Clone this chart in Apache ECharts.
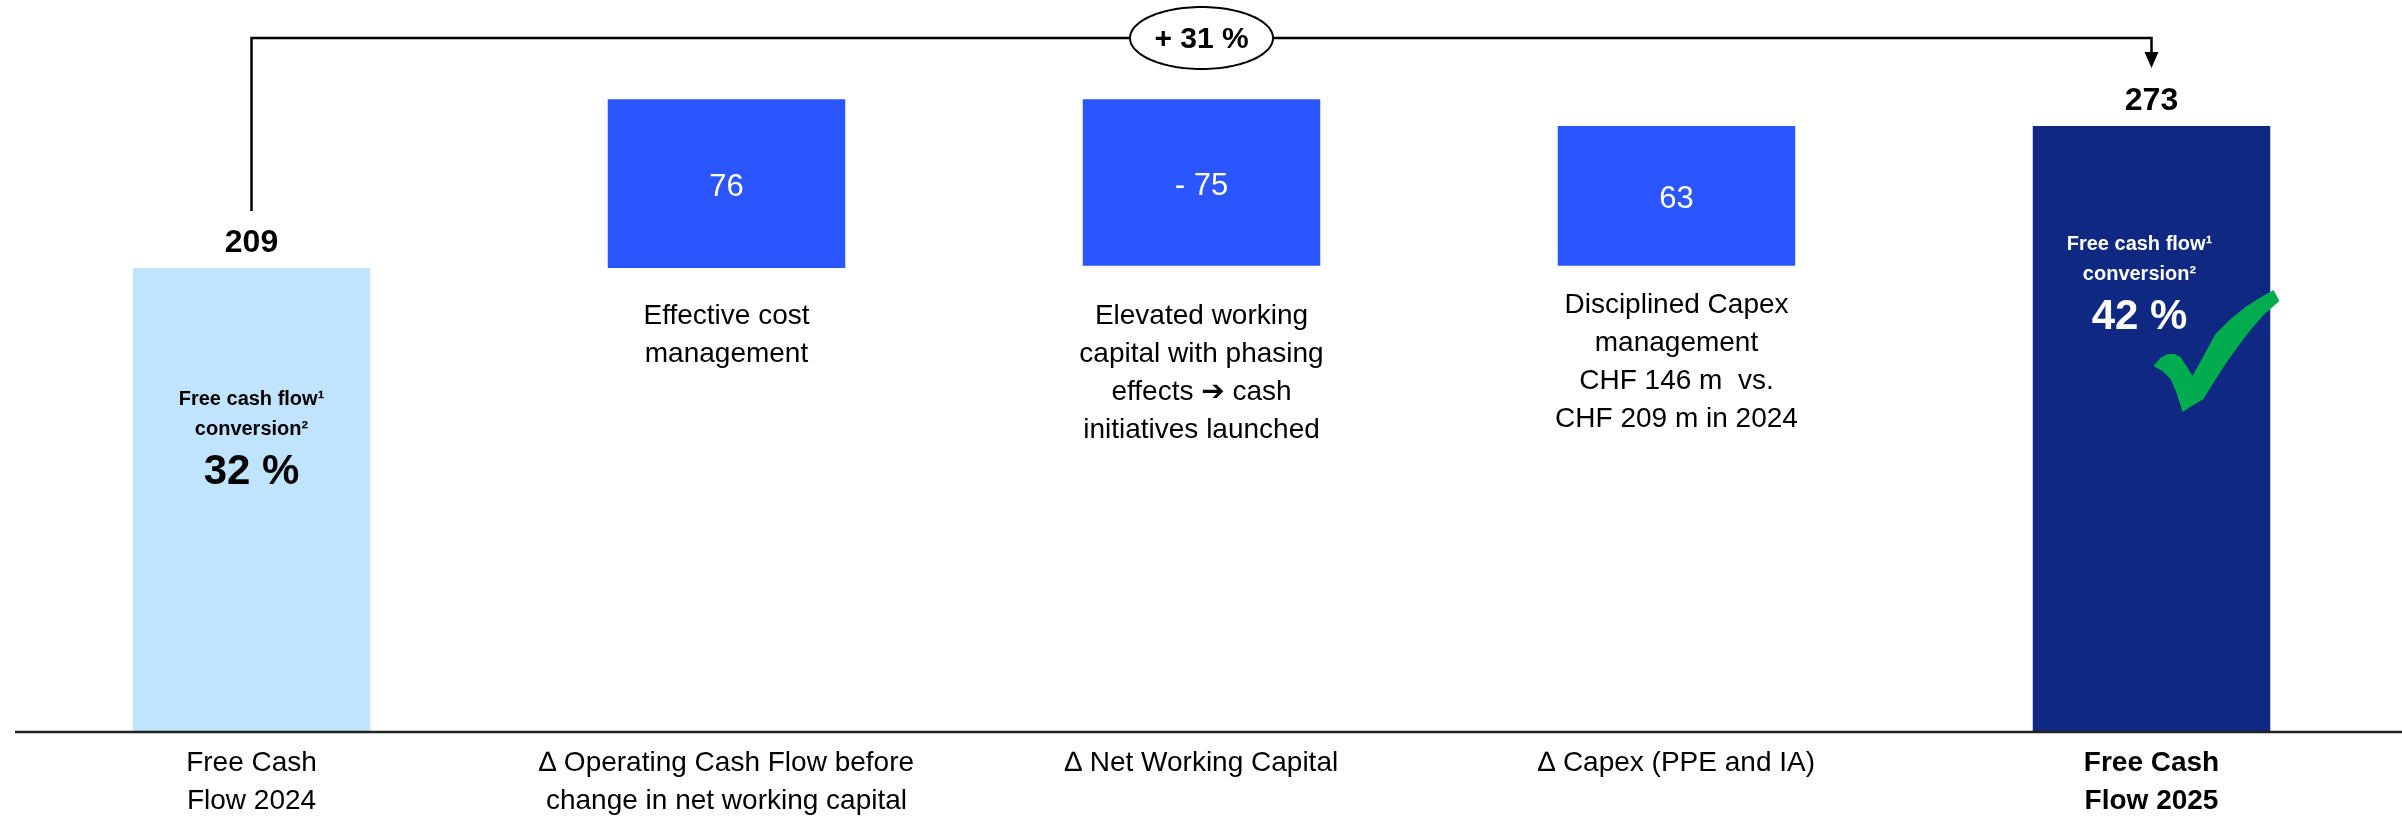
<!DOCTYPE html>
<html>
<head>
<meta charset="utf-8">
<title>Free Cash Flow bridge 2024 – 2025</title>
<script src="https://cdn.jsdelivr.net/npm/echarts@6/dist/echarts.min.js"></script>
<style>
  html, body { margin: 0; padding: 0; background: #ffffff; }
  #chart { width: 2402px; height: 820px; }
</style>
</head>
<body>
<div id="chart"></div>
<script>
// ---- Data -------------------------------------------------------------
const categories = [
  'Free Cash\nFlow 2024',
  '\u2206 Operating Cash Flow before\nchange in net working capital',
  '\u2206 Net Working Capital',
  '\u2206 Capex (PPE and IA)',
  'Free Cash\nFlow 2025'
];
const startValue = 209;            // CHF m, FY 2024
const deltas = [76, -75, 63];      // bridge steps
const endValue = 273;              // CHF m, FY 2025
const conversionRates = ['32 %', '42 %'];
const growthLabel = '+ 31 %';
const notes = [
  'Effective cost\nmanagement',
  'Elevated working\ncapital with phasing\neffects \u2794 cash\ninitiatives launched',
  'Disciplined Capex\nmanagement\nCHF 146 m  vs.\nCHF 209 m in 2024'
];

// ---- Styling ------------------------------------------------------------
const FONT = '"Liberation Sans", Arial, "DejaVu Sans", sans-serif';
const COLOR_START = '#C0E4FD';
const COLOR_STEP = '#2A55FF';
const COLOR_END = '#0F2882';
const COLOR_CHECK = '#00AC4E';
const noteGap = [29, 31, 20];      // space between a step bar and its note

// ---- Waterfall series built from the values ----------------------------
const baseData = ['-'];
const stepData = ['-'];
let running = startValue;
deltas.forEach(function (d, i) {
  baseData.push({ value: Math.min(running, running + d), label: { distance: noteGap[i] } });
  stepData.push(Math.abs(d));
  running += d;
});
baseData.push('-');
stepData.push('-');

const totalData = [
  { value: startValue, itemStyle: { color: COLOR_START } },
  '-', '-', '-',
  { value: endValue, itemStyle: { color: COLOR_END } }
];

// conversion captions inside the two total bars (k = 'd' dark text, 'w' white text)
const convText = function (rate, k) {
  return '{s' + k + '|Free cash flow\u00B9}\n{s' + k + '|conversion\u00B2}\n{b' + k + '|' + rate + '}';
};
const conversionData = [
  { value: startValue, label: { distance: 116, formatter: convText(conversionRates[0], 'd') } },
  '-', '-', '-',
  { value: endValue, label: { distance: 103, offset: [-12, 0], formatter: convText(conversionRates[1], 'w') } }
];

const chart = echarts.init(document.getElementById('chart'), null, { renderer: 'canvas' });

chart.setOption({
  animation: false,
  backgroundColor: '#ffffff',
  textStyle: { fontFamily: FONT },
  grid: { left: 14, right: 13, top: 66, bottom: 86, containLabel: false },
  xAxis: {
    type: 'category',
    data: categories.map(function (c, i) {
      return i === categories.length - 1
        ? { value: c, textStyle: { fontWeight: 'bold' } }
        : c;
    }),
    axisTick: { show: false },
    // the baseline is drawn below so that it can run to the right page edge
    axisLine: { show: false },
    axisLabel: {
      interval: 0,
      margin: 12,
      fontSize: 28,
      lineHeight: 38,
      color: '#000000',
      fontFamily: FONT
    },
    splitLine: { show: false }
  },
  yAxis: {
    type: 'value',
    min: 0,
    max: 300,
    show: false,
    splitLine: { show: false }
  },
  series: [
    {
      name: 'base',
      type: 'bar',
      stack: 'bridge',
      barWidth: '50%',
      silent: true,
      itemStyle: { color: 'rgba(0,0,0,0)' },
      label: {
        show: true,
        position: 'insideTop',
        fontSize: 28,
        lineHeight: 38,
        color: '#000000',
        fontFamily: FONT,
        align: 'center',
        formatter: function (p) { return notes[p.dataIndex - 1]; }
      },
      data: baseData
    },
    {
      name: 'step',
      type: 'bar',
      stack: 'bridge',
      barWidth: '50%',
      silent: true,
      itemStyle: { color: COLOR_STEP },
      label: {
        show: true,
        position: 'inside',
        offset: [0, 4],
        fontSize: 31,
        color: '#ffffff',
        textBorderWidth: 0,
        fontFamily: FONT,
        formatter: function (p) {
          const d = deltas[p.dataIndex - 1];
          return d < 0 ? '- ' + Math.abs(d) : String(d);
        }
      },
      data: stepData
    },
    {
      name: 'total',
      type: 'bar',
      stack: 'bridge',
      barWidth: '50%',
      silent: true,
      label: {
        show: true,
        position: 'top',
        distance: 9,
        fontSize: 32,
        fontWeight: 'bold',
        color: '#000000',
        fontFamily: FONT
      },
      data: totalData
    },
    {
      name: 'conversion',
      type: 'scatter',
      symbolSize: 1,
      silent: true,
      z: 5,
      itemStyle: { color: 'rgba(0,0,0,0)' },
      label: {
        show: true,
        position: 'bottom',
        align: 'center',
        opacity: 1,
        textBorderWidth: 0,
        fontFamily: FONT,
        rich: {
          sd: { fontSize: 20, fontWeight: 'bold', lineHeight: 30, color: '#000000', fontFamily: FONT },
          bd: { fontSize: 42, fontWeight: 'bold', lineHeight: 56, color: '#000000', fontFamily: FONT },
          sw: { fontSize: 20, fontWeight: 'bold', lineHeight: 30, color: '#ffffff', fontFamily: FONT },
          bw: { fontSize: 42, fontWeight: 'bold', lineHeight: 56, color: '#ffffff', fontFamily: FONT }
        }
      },
      data: conversionData
    }
  ]
});

// ---- Baseline, bracket, growth badge and check mark ----------------------
const px = function (i, v) {
  return chart.convertToPixel({ xAxisIndex: 0, yAxisIndex: 0 }, [i, v]);
};
const first = px(0, startValue);
const last = px(categories.length - 1, endValue);
const zero = px(0, 0);
const bracketY = 38;
const leftEndY = first[1] - 57;
const arrowTipY = last[1] - 58;
const midX = (first[0] + last[0]) / 2;

const ellipsePts = [];
for (let k = 0; k < 120; k++) {
  const a = (k / 120) * Math.PI * 2;
  ellipsePts.push([midX + 71.5 * Math.cos(a), bracketY + 31 * Math.sin(a)]);
}

// check mark outline, relative to the top centre of the 2025 bar
const checkShape = [
  [2, 240], [9, 232], [16, 228], [23, 228], [29, 231], [35, 240], [41, 250],
  [52, 230], [64, 208], [78, 194], [94, 181], [108, 172], [122, 164],
  [128, 175], [112, 189], [99, 204], [86, 221], [74, 238], [63, 255],
  [52, 273], [42, 279], [31, 286], [28, 276], [24, 264], [19, 253], [11, 245]
].map(function (q) { return [last[0] + q[0], last[1] + q[1]]; });

chart.setOption({
  graphic: [
    {
      type: 'line', silent: true, z: 10,
      shape: { x1: 15, y1: zero[1], x2: chart.getWidth(), y2: zero[1] },
      style: { stroke: '#222222', lineWidth: 2.5 }
    },
    {
      type: 'polyline', silent: true,
      shape: { points: [[first[0], leftEndY], [first[0], bracketY], [last[0], bracketY], [last[0], arrowTipY - 15]] },
      style: { stroke: '#000000', lineWidth: 2.5, fill: null }
    },
    {
      type: 'polygon', silent: true,
      shape: { points: [[last[0] - 7, arrowTipY - 16], [last[0] + 7, arrowTipY - 16], [last[0], arrowTipY]] },
      style: { fill: '#000000' }
    },
    {
      type: 'polygon', silent: true,
      shape: { points: ellipsePts },
      style: { fill: '#ffffff', stroke: '#000000', lineWidth: 2 }
    },
    {
      type: 'text', silent: true,
      x: midX, y: bracketY + 2,
      style: {
        text: growthLabel,
        fill: '#000000',
        fontSize: 30,
        fontWeight: 'bold',
        fontFamily: FONT,
        align: 'center',
        verticalAlign: 'middle'
      }
    },
    {
      type: 'polygon', silent: true,
      z: 10,
      shape: { points: checkShape },
      style: { fill: COLOR_CHECK }
    }
  ]
});
</script>
</body>
</html>
